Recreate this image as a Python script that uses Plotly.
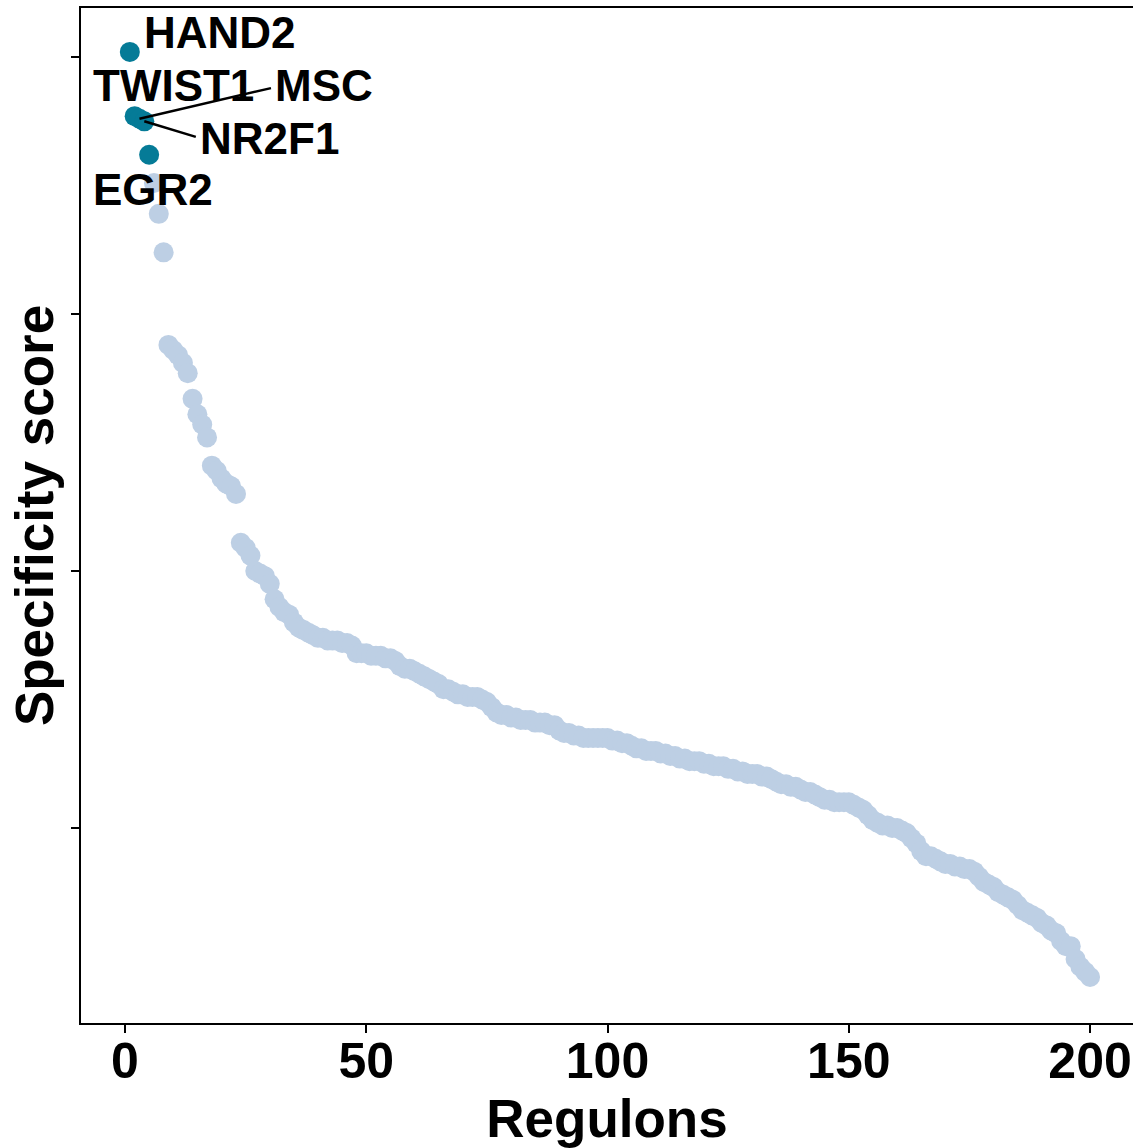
import plotly.graph_objects as go

# Specificity scores of 200 regulons, ranked
scores = [
    0.602, 0.577, 0.576, 0.575, 0.562, 0.551, 0.539, 0.524, 0.488, 0.486,
    0.484, 0.481, 0.477, 0.467, 0.461, 0.457, 0.452, 0.441, 0.439, 0.436,
    0.434, 0.433, 0.430, 0.411, 0.409, 0.406, 0.400, 0.399, 0.398, 0.395,
    0.389, 0.386, 0.384, 0.383, 0.380, 0.378, 0.377, 0.376, 0.375, 0.374,
    0.374, 0.373, 0.373, 0.373, 0.372, 0.372, 0.371, 0.368, 0.368, 0.368,
    0.367, 0.367, 0.367, 0.366, 0.366, 0.365, 0.363, 0.362, 0.362, 0.361,
    0.360, 0.359, 0.358, 0.357, 0.356, 0.354, 0.354, 0.353, 0.352, 0.352,
    0.351, 0.351, 0.351, 0.350, 0.349, 0.347, 0.345, 0.344, 0.344, 0.343,
    0.343, 0.342, 0.342, 0.342, 0.341, 0.341, 0.341, 0.340, 0.340, 0.338,
    0.337, 0.337, 0.336, 0.336, 0.335, 0.335, 0.335, 0.335, 0.335, 0.335,
    0.334, 0.334, 0.333, 0.333, 0.332, 0.331, 0.331, 0.330, 0.330, 0.330,
    0.329, 0.329, 0.328, 0.328, 0.327, 0.327, 0.326, 0.326, 0.326, 0.325,
    0.325, 0.324, 0.324, 0.324, 0.323, 0.323, 0.322, 0.322, 0.321, 0.321,
    0.321, 0.320, 0.320, 0.319, 0.318, 0.317, 0.317, 0.316, 0.316, 0.315,
    0.314, 0.314, 0.313, 0.312, 0.311, 0.311, 0.310, 0.310, 0.310, 0.310,
    0.309, 0.308, 0.307, 0.305, 0.303, 0.302, 0.301, 0.301, 0.300, 0.300,
    0.299, 0.298, 0.296, 0.294, 0.291, 0.289, 0.289, 0.288, 0.287, 0.286,
    0.286, 0.285, 0.285, 0.284, 0.284, 0.283, 0.281, 0.279, 0.278, 0.277,
    0.275, 0.274, 0.273, 0.272, 0.270, 0.268, 0.267, 0.266, 0.265, 0.263,
    0.262, 0.260, 0.259, 0.256, 0.254, 0.254, 0.249, 0.246, 0.244, 0.242,
]
ranks = list(range(1, len(scores) + 1))

top_names = ["HAND2", "TWIST1", "MSC", "NR2F1", "EGR2"]
n_top = len(top_names)

x_ticks = [0, 50, 100, 150, 200]
y_ticks = [0.3, 0.4, 0.5, 0.6]

TEAL = "#057b97"
LIGHT = "#bdcfe4"
FONT = "Liberation Sans, Arial, sans-serif"

fig = go.Figure()
fig.add_trace(go.Scatter(
    x=ranks[n_top:], y=scores[n_top:], mode="markers",
    marker=dict(size=20, color=LIGHT, line=dict(width=0)),
    showlegend=False, hoverinfo="x+y"))
fig.add_trace(go.Scatter(
    x=ranks[:n_top], y=scores[:n_top], mode="markers",
    marker=dict(size=20, color=TEAL, line=dict(width=0)),
    text=top_names, showlegend=False, hoverinfo="text+y"))

# label placement: text offset from the point (px) and optional leader-line tail (px)
label_style = {
    "HAND2":  dict(dx=90, dy=-19, seg=None),
    "TWIST1": dict(dx=39, dy=-31, seg=None),
    "MSC":    dict(dx=185, dy=-33, seg=(133, -31)),
    "NR2F1":  dict(dx=125, dy=17, seg=(53, 16)),
    "EGR2":   dict(dx=4, dy=35, seg=None),
}
lfont = dict(family=FONT, size=44, color="black", weight="bold")
for name, rx, sy in zip(top_names, ranks[:n_top], scores[:n_top]):
    st = label_style[name]
    if st["seg"] is not None:
        fig.add_annotation(x=rx, y=sy, xref="x", yref="y", text="",
                           showarrow=True, arrowhead=0, arrowwidth=2.5,
                           arrowcolor="black", ax=st["seg"][0], ay=st["seg"][1],
                           standoff=0, startstandoff=0)
    fig.add_annotation(x=rx, y=sy, xref="x", yref="y", text=name,
                       showarrow=False, xshift=st["dx"], yshift=-st["dy"],
                       font=lfont)

fig.update_layout(
    width=1133, height=1148,
    margin=dict(l=81, r=0, t=8, b=125),
    paper_bgcolor="white", plot_bgcolor="white",
    font=dict(family=FONT, color="black"),
    xaxis=dict(
        range=[-9.12, 208.9], tickvals=x_ticks, ticks="outside", ticklen=8,
        tickwidth=2, tickcolor="black", showline=True, linecolor="black",
        linewidth=2, mirror=True, showgrid=False, zeroline=False,
        ticklabelstandoff=-15,
        tickfont=dict(family=FONT, size=50, color="black", weight="bold"),
        title=dict(text="Regulons", standoff=0,
                   font=dict(family=FONT, size=53, color="black", weight="bold")),
        automargin=False),
    yaxis=dict(
        range=[0.2241, 0.6191], tickvals=y_ticks, ticks="outside", ticklen=8,
        tickwidth=2, tickcolor="black", showline=True, linecolor="black",
        linewidth=2, showgrid=False, zeroline=False, showticklabels=False,
        title=dict(text="Specificity score", standoff=0,
                   font=dict(family=FONT, size=53, color="black", weight="bold")),
        automargin=False),
)

fig.write_html(
    "out.html",
    config={"displayModeBar": False},
    post_script="document.body.style.margin='0';document.body.style.overflow='hidden';",
)
